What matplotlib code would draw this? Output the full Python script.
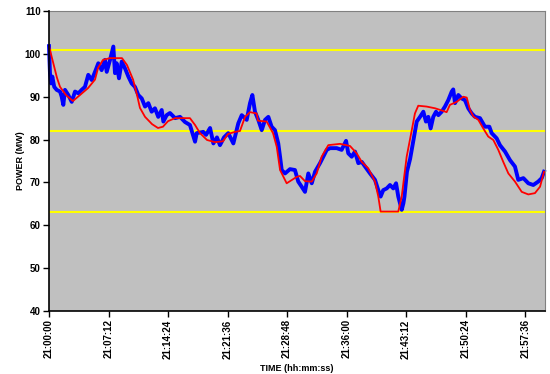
import matplotlib
matplotlib.use("Agg")
import matplotlib.pyplot as plt
from matplotlib.ticker import FixedLocator, FuncFormatter

# Time in seconds after 21:00:00
blue_t = [0, 7, 15, 24, 38, 56, 80, 92, 104, 116, 140, 165, 189, 213, 237, 261, 285, 310, 334, 358,
          382, 406, 419, 443, 467, 479, 491, 508, 528, 552, 576, 600, 624, 648, 673, 697, 721, 745, 769, 793,
          818, 830, 854, 878, 915, 951, 987, 1023, 1060, 1072, 1120, 1140, 1169, 1193, 1219, 1241, 1270, 1301, 1338, 1374,
          1399, 1435, 1459, 1476, 1495, 1519, 1544, 1568, 1592, 1616, 1640, 1664, 1677, 1689, 1713, 1749, 1785, 1809, 1834, 1858,
          1882, 1907, 1931, 1967, 1991, 2016, 2040, 2088, 2124, 2156, 2172, 2197, 2221, 2245, 2270, 2294, 2330, 2366, 2390, 2407,
          2426, 2451, 2475, 2499, 2519, 2535, 2560, 2572, 2580, 2598, 2621, 2645, 2669, 2693, 2717, 2736, 2753, 2770, 2789, 2809,
          2826, 2850, 2874, 2898, 2923, 2934, 2947, 2971, 2995, 3019, 3043, 3068, 3092, 3128, 3164, 3196, 3213, 3249, 3273, 3310,
          3346, 3382, 3406, 3443, 3479, 3515, 3551, 3576, 3593]
blue_v = [101.8, 95.5, 93.1, 94.7, 92.3, 91.6, 91.2, 90.0, 88.1, 91.6, 90.4, 88.8, 91.2, 90.8, 91.6, 92.3, 95.1, 93.9, 95.8, 97.8,
          96.2, 98.6, 95.8, 98.6, 101.7, 95.5, 97.8, 94.3, 98.2, 96.6, 94.7, 93.1, 92.3, 90.4, 89.6, 87.7, 88.5, 86.5, 87.3, 85.3,
          86.9, 84.2, 85.7, 86.2, 85.0, 85.3, 84.1, 83.4, 79.5, 81.5, 81.8, 81.1, 82.7, 79.1, 80.5, 78.7, 80.5, 81.5, 79.1, 83.8,
          85.7, 84.6, 88.5, 90.4, 86.5, 84.6, 82.2, 84.6, 85.3, 83.0, 82.2, 79.1, 76.0, 72.9, 72.1, 73.1, 72.9, 70.2, 69.0, 67.8,
          72.1, 69.8, 72.5, 74.5, 76.0, 77.6, 78.0, 78.0, 77.6, 79.7, 76.8, 76.0, 77.2, 74.5, 74.8, 73.7, 72.1, 70.6, 68.2, 66.7,
          68.2, 68.6, 69.4, 68.6, 69.8, 66.7, 63.6, 65.1, 66.7, 72.5, 75.5, 79.9, 84.2, 85.3, 86.5, 84.2, 85.3, 82.6, 85.3, 86.5,
          85.7, 86.5, 87.7, 89.2, 91.2, 91.7, 88.5, 90.4, 89.6, 89.2, 87.3, 86.1, 85.3, 85.0, 83.0, 83.0, 81.5, 80.3, 78.7, 77.2,
          75.2, 73.7, 70.6, 71.0, 69.8, 69.4, 70.2, 71.0, 72.5]

red_t = [0, 58, 80, 123, 174, 225, 283, 334, 356, 392, 443, 530, 566, 610, 639, 660, 697, 748, 791, 827,
         864, 915, 1023, 1060, 1096, 1147, 1205, 1263, 1299, 1350, 1386, 1423, 1459, 1507, 1517, 1580, 1626, 1653, 1677, 1725,
         1798, 1822, 1858, 1907, 1943, 1979, 2027, 2112, 2185, 2233, 2270, 2317, 2366, 2390, 2407, 2535, 2560, 2596, 2633, 2656,
         2680, 2741, 2802, 2850, 2886, 2910, 2959, 3007, 3032, 3056, 3080, 3116, 3152, 3188, 3225, 3261, 3297, 3334, 3382, 3431,
         3479, 3527, 3564, 3593]
red_v = [101.8, 94.4, 92.3, 90.4, 89.0, 90.4, 92.0, 94.0, 96.7, 98.6, 99.0, 99.0, 97.4, 94.0, 90.4, 87.4, 85.3, 83.6, 82.7, 83.0,
         84.3, 85.0, 85.0, 83.4, 81.5, 79.9, 79.4, 79.6, 81.3, 81.8, 82.0, 85.3, 86.4, 86.1, 84.4, 84.2, 81.5, 78.3, 72.9, 69.8,
         71.3, 71.5, 70.3, 70.2, 72.1, 76.0, 78.7, 79.0, 78.5, 76.8, 74.8, 73.3, 70.2, 66.7, 63.2, 63.2, 66.7, 76.0, 82.2, 86.1,
         87.9, 87.7, 87.3, 86.8, 86.4, 88.1, 88.8, 90.0, 89.8, 86.9, 85.4, 84.6, 82.6, 80.7, 79.9, 77.6, 74.8, 72.1, 70.2, 67.8,
         67.2, 67.5, 69.0, 72.5]

limit_levels = [101, 82, 63]
x_ticks = [0, 432, 864, 1296, 1728, 2160, 2592, 3024, 3456]
y_ticks = [40, 50, 60, 70, 80, 90, 100, 110]

plt.rcParams['font.family'] = ['Liberation Sans', 'DejaVu Sans']

fig = plt.figure(figsize=(5.5, 3.74), dpi=100)
ax = fig.add_axes([49/550, 1-311/374, 496/550, 300/374])
ax.set_facecolor('#C0C0C0')

for lv in limit_levels:
    ax.axhline(lv, color='#FFFF00', lw=1.5, zorder=1)

ax.plot(blue_t, blue_v, color='#0000FF', lw=2.8, zorder=2, solid_joinstyle='round', clip_on=False)
ax.plot(red_t, red_v, color='#FF0000', lw=1.3, zorder=3)

ax.set_xlim(0, 3600)
ax.set_ylim(40, 110)
ax.xaxis.set_major_locator(FixedLocator(x_ticks))
ax.yaxis.set_major_locator(FixedLocator(y_ticks))

def fmt(t, pos):
    t = int(round(t))
    h = 21 + t // 3600
    m = (t % 3600) // 60
    s = t % 60
    return f"{h:02d}:{m:02d}:{s:02d}"

ax.xaxis.set_major_formatter(FuncFormatter(fmt))
for lab in ax.get_xticklabels():
    lab.set_rotation(90)
ax.tick_params(axis='both', labelsize=7, length=4, width=1, direction='out', pad=2)
for lab in ax.get_xticklabels() + ax.get_yticklabels():
    lab.set_fontweight('bold')

ax.spines['left'].set_color('black')
ax.spines['bottom'].set_color('black')
ax.spines['left'].set_linewidth(1.2)
ax.spines['bottom'].set_linewidth(1.2)
ax.spines['top'].set_color('#808080')
ax.spines['right'].set_color('#808080')
ax.spines['left'].set_zorder(5)

ax.set_xlabel('TIME (hh:mm:ss)', fontsize=6.5, fontweight='bold', labelpad=4)
ax.set_ylabel('POWER (MW)', fontsize=6.5, fontweight='bold')
ax.yaxis.set_label_coords(-24/496, 0.5)

fig.savefig('out.png', dpi=100)
